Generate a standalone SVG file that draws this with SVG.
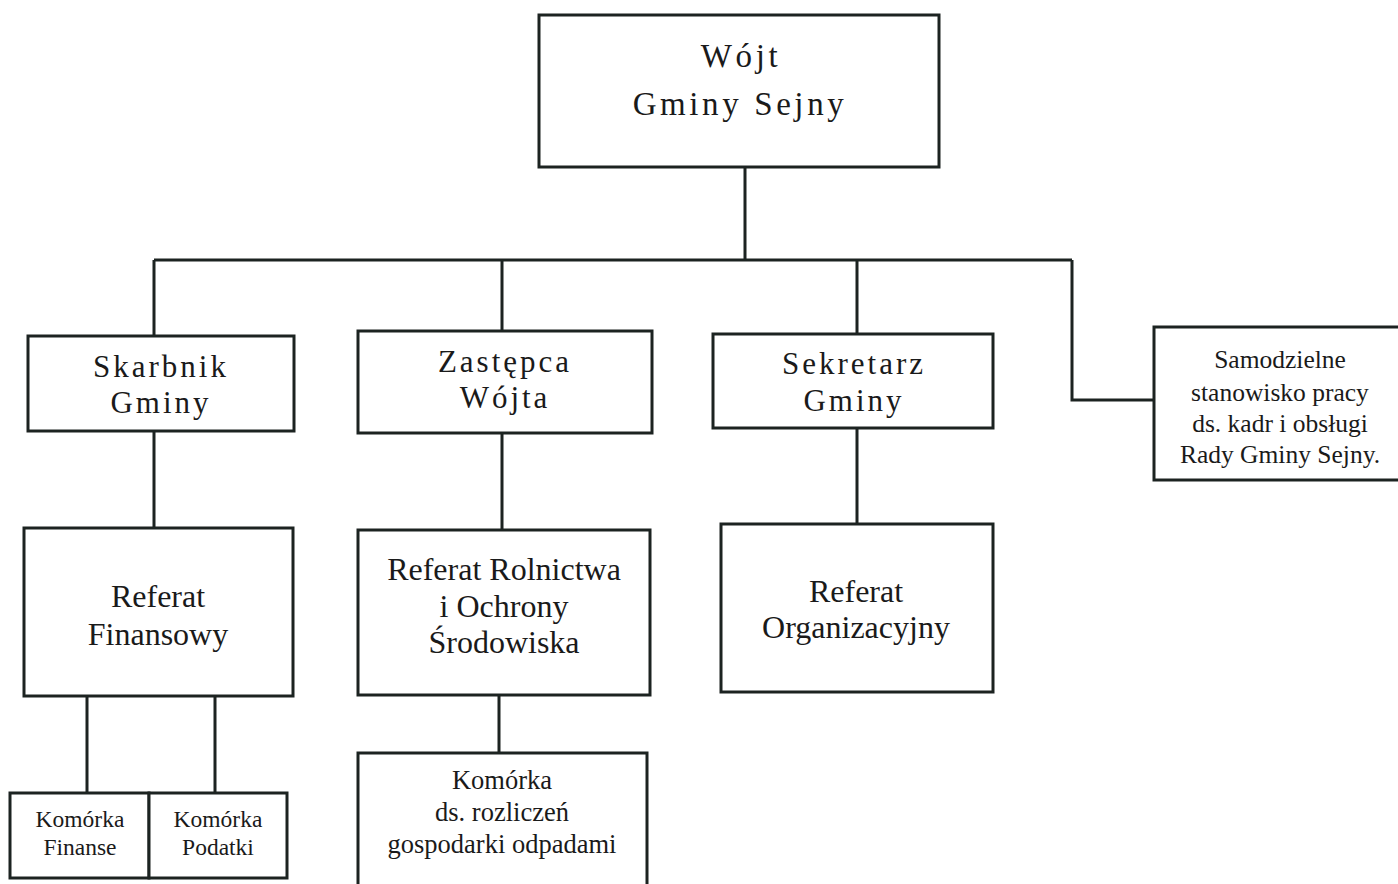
<svg xmlns="http://www.w3.org/2000/svg" width="1398" height="884" viewBox="0 0 1398 884">
<style>
.box{fill:#fff;stroke:#1c2321;stroke-width:3}
.ln{fill:none;stroke:#1c2321;stroke-width:3}
text{font-family:"Liberation Serif","Times New Roman",serif;fill:#1a1a1a;text-anchor:middle}
.t1{font-size:33px;letter-spacing:3.6px}
.t2{font-size:31px;letter-spacing:3px}
.t3{font-size:32px}
.t4{font-size:26.5px}
.t5{font-size:25.5px}
.t6{font-size:23.5px}
</style>
<rect width="1398" height="884" fill="#fff"/>
<g id="connectors">
<path class="ln" d="M745 167V260M154 260H1072M154 260V336M502 260V331M857 260V334M1072 260V400H1154"/>
<path class="ln" d="M154 431V528M502 433V530M857 428V524"/>
<path class="ln" d="M87 696V793M215 696V793M499 695V753"/>
</g>
<g id="wojt">
<rect class="box" x="539" y="15" width="400" height="152"/>
<text class="t1" x="741" y="67">Wójt</text>
<text class="t1" x="740" y="115">Gminy Sejny</text>
</g>
<g id="skarbnik">
<rect class="box" x="28" y="336" width="266" height="95"/>
<text class="t2" x="161" y="377">Skarbnik</text>
<text class="t2" x="161" y="413">Gminy</text>
</g>
<g id="zastepca">
<rect class="box" x="358" y="331" width="294" height="102"/>
<text class="t2" x="505" y="372">Zastępca</text>
<text class="t2" x="505" y="408">Wójta</text>
</g>
<g id="sekretarz">
<rect class="box" x="713" y="334" width="280" height="94"/>
<text class="t2" x="854" y="374">Sekretarz</text>
<text class="t2" x="854" y="411">Gminy</text>
</g>
<g id="samodzielne">
<rect class="box" x="1154" y="327" width="250" height="153"/>
<text class="t5" x="1280" y="368">Samodzielne</text>
<text class="t5" x="1280" y="401">stanowisko pracy</text>
<text class="t5" x="1280" y="432">ds. kadr i obsługi</text>
<text class="t5" x="1280" y="463">Rady Gminy Sejny.</text>
</g>
<g id="referat-finansowy">
<rect class="box" x="24" y="528" width="269" height="168"/>
<text class="t3" x="158" y="607">Referat</text>
<text class="t3" x="158" y="645">Finansowy</text>
</g>
<g id="referat-rolnictwa">
<rect class="box" x="358" y="530" width="292" height="165"/>
<text class="t3" x="504" y="580">Referat Rolnictwa</text>
<text class="t3" x="504" y="617">i Ochrony</text>
<text class="t3" x="504" y="653">Środowiska</text>
</g>
<g id="referat-organizacyjny">
<rect class="box" x="721" y="524" width="272" height="168"/>
<text class="t3" x="856" y="602">Referat</text>
<text class="t3" x="856" y="638">Organizacyjny</text>
</g>
<g id="komorka-finanse">
<rect class="box" x="10" y="793" width="139" height="85"/>
<text class="t6" x="80" y="827">Komórka</text>
<text class="t6" x="80" y="855">Finanse</text>
</g>
<g id="komorka-podatki">
<rect class="box" x="149" y="793" width="138" height="85"/>
<text class="t6" x="218" y="827">Komórka</text>
<text class="t6" x="218" y="855">Podatki</text>
</g>
<g id="komorka-odpady">
<rect class="box" x="358" y="753" width="289" height="150"/>
<text class="t4" x="502" y="789">Komórka</text>
<text class="t4" x="502" y="821">ds. rozliczeń</text>
<text class="t4" x="502" y="853">gospodarki odpadami</text>
</g>
</svg>
